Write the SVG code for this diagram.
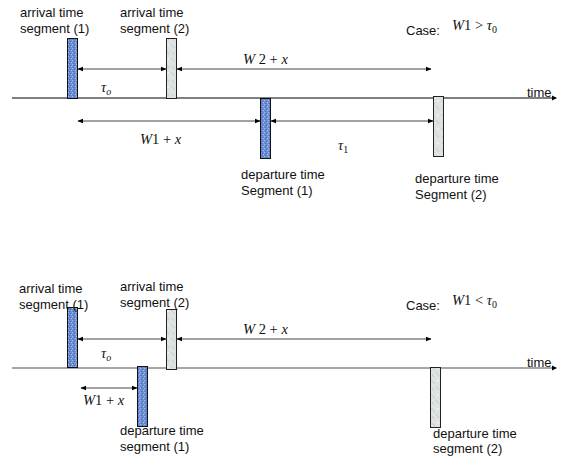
<svg xmlns="http://www.w3.org/2000/svg" width="572" height="458" viewBox="0 0 572 458">
<style>
.lbl{font-family:"Liberation Sans",Arial,sans-serif;font-size:13px;fill:#111}
.math{font-family:"Liberation Serif","Times New Roman",serif;font-style:italic;font-size:14.5px;fill:#111}
.sub{font-size:10px}
.axis{stroke:#000;stroke-width:1.2}
.axis2{stroke:#888;stroke-width:1.5}
.arr{stroke:#444;stroke-width:1;marker-start:url(#ah);marker-end:url(#ah)}
.blue{fill:url(#pBlue);stroke:#111;stroke-width:1}
.grey{fill:url(#pGrey);stroke:#222;stroke-width:1}
</style>
<defs>
<marker id="ah" viewBox="0 0 10 10" refX="9" refY="5" markerWidth="6" markerHeight="6" orient="auto-start-reverse" markerUnits="userSpaceOnUse">
<path d="M0,1 L10,5 L0,9 z" fill="#000"/>
</marker>
<pattern id="pBlue" width="4" height="4" patternUnits="userSpaceOnUse">
<rect width="4" height="4" fill="#6a8dd3"/>
<rect x="0" y="0" width="1" height="1" fill="#a8bdea"/>
<rect x="2" y="1" width="1" height="1" fill="#4a6cb5"/>
<rect x="1" y="3" width="1" height="1" fill="#4a6cb5"/>
<rect x="3" y="2" width="1" height="1" fill="#b0c3ec"/>
</pattern>
<pattern id="pGrey" width="10" height="14" patternUnits="userSpaceOnUse">
<rect width="10" height="14" fill="#dfe2e2"/>
<path d="M1,2 L5,6 M6,8 L9,12 M2,10 L4,13" stroke="#bfc4c4" stroke-width="0.8"/>
<rect x="7" y="2" width="2" height="2" fill="#eef0f0"/>
</pattern>
</defs>

<!-- Top diagram -->
<g id="top-axis">
<line class="axis" x1="12" y1="98" x2="556" y2="98"/>
<path d="M552,95.5 L557,98 L552,100.5 z" fill="#000"/>
<text class="lbl" x="527" y="97">time</text>
</g>
<g id="top-case">
<text class="lbl" x="406" y="35">Case:</text>
<text class="math" x="452" y="30">W<tspan font-style="normal">1 &gt; </tspan>τ<tspan class="sub" font-style="normal" dy="3">0</tspan></text>
</g>
<g id="connectors-top">
<line class="arr" x1="78" y1="69" x2="166" y2="69"/>
<line class="arr" x1="177" y1="69" x2="431" y2="69"/>
<line class="arr" x1="78" y1="121" x2="260" y2="121"/>
<line class="arr" x1="271" y1="121" x2="433" y2="121"/>
</g>
<g id="top-labels">
<text class="math" x="101" y="92">τ<tspan class="sub" dy="3">o</tspan></text>
<text class="math" x="243" y="64">W<tspan font-style="normal"> 2 + </tspan>x</text>
<text class="math" x="140" y="144">W<tspan font-style="normal">1 + </tspan>x</text>
<text class="math" x="338" y="150">τ<tspan class="sub" font-style="normal" dy="3">1</tspan></text>
</g>
<g id="top-arr1">
<rect class="blue" x="67.5" y="38.5" width="10" height="60"/>
<text class="lbl" x="20" y="17">arrival time</text>
<text class="lbl" x="20" y="33">segment (1)</text>
</g>
<g id="top-arr2">
<rect class="grey" x="166.5" y="38.5" width="10" height="60"/>
<text class="lbl" x="120" y="17">arrival time</text>
<text class="lbl" x="120" y="33">segment (2)</text>
</g>
<g id="top-dep1">
<rect class="blue" x="260.5" y="98.5" width="10" height="60"/>
<text class="lbl" x="241" y="179">departure time</text>
<text class="lbl" x="241" y="195">Segment (1)</text>
</g>
<g id="top-dep2">
<rect class="grey" x="433.5" y="96.5" width="10" height="60"/>
<text class="lbl" x="415" y="183">departure time</text>
<text class="lbl" x="415" y="199">Segment (2)</text>
</g>

<!-- Bottom diagram -->
<g id="bot-axis">
<line class="axis2" x1="12" y1="368" x2="556" y2="368"/>
<path d="M552,365.5 L557,368 L552,370.5 z" fill="#000"/>
<text class="lbl" x="527" y="367">time</text>
</g>
<g id="bot-case">
<text class="lbl" x="406" y="310">Case:</text>
<text class="math" x="452" y="305">W<tspan font-style="normal">1 &lt; </tspan>τ<tspan class="sub" font-style="normal" dy="3">0</tspan></text>
</g>
<g id="connectors-bottom">
<line class="arr" x1="78" y1="339" x2="166" y2="339"/>
<line class="arr" x1="177" y1="339" x2="431" y2="339"/>
<line class="arr" x1="81" y1="388" x2="137" y2="388"/>
</g>
<g id="bot-labels">
<text class="math" x="101" y="358">τ<tspan class="sub" dy="3">o</tspan></text>
<text class="math" x="243" y="334">W<tspan font-style="normal"> 2 + </tspan>x</text>
<text class="math" x="83" y="405">W<tspan font-style="normal">1 + </tspan>x</text>
</g>
<g id="bot-arr1">
<rect class="blue" x="67.5" y="307.5" width="10" height="60"/>
<text class="lbl" x="19" y="293">arrival time</text>
<text class="lbl" x="19" y="309">segment (1)</text>
</g>
<g id="bot-arr2">
<rect class="grey" x="166.5" y="309.5" width="10" height="60"/>
<text class="lbl" x="120" y="291">arrival time</text>
<text class="lbl" x="120" y="307">segment (2)</text>
</g>
<g id="bot-dep1">
<rect class="blue" x="137.5" y="366.5" width="10" height="60"/>
<text class="lbl" x="120" y="435">departure time</text>
<text class="lbl" x="120" y="451">segment (1)</text>
</g>
<g id="bot-dep2">
<rect class="grey" x="430.5" y="367.5" width="10" height="60"/>
<text class="lbl" x="433" y="438">departure time</text>
<text class="lbl" x="433" y="453">segment (2)</text>
</g>
</svg>
